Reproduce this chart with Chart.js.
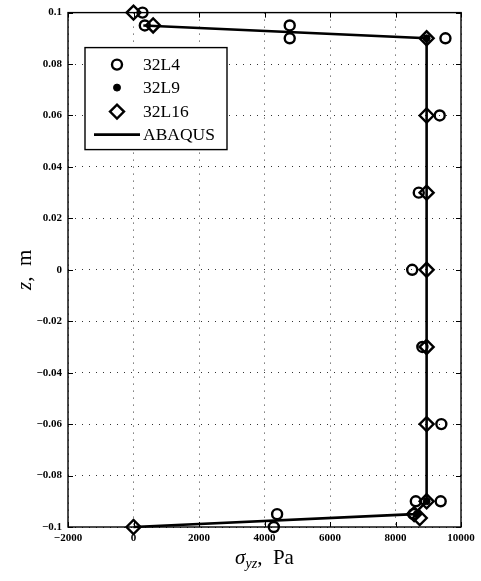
<!DOCTYPE html>
<html>
<head>
<meta charset="utf-8">
<style>
  html, body { margin: 0; padding: 0; background: #fff; }
  #wrap { width: 481px; height: 581px; }
</style>
<script src="https://cdn.jsdelivr.net/npm/chart.js@4/dist/chart.umd.min.js"></script>
</head>
<body>
<div id="wrap"><canvas id="c" width="481" height="581"></canvas></div>
<script>
// Axis ticks and their printed labels
const stressTicks = [-2000, 0, 2000, 4000, 6000, 8000, 10000];
const stressTickLabels = ['\u22122000', '0', '2000', '4000', '6000', '8000', '10000'];
const zTicks = [-0.1, -0.08, -0.06, -0.04, -0.02, 0, 0.02, 0.04, 0.06, 0.08, 0.1];
const zTickLabels = ['\u22120.1', '\u22120.08', '\u22120.06', '\u22120.04', '\u22120.02', '0', '0.02', '0.04', '0.06', '0.08', '0.1'];

// Shear stress sigma_yz (Pa) through the thickness z (m)
const l4Stress = [275, 345, 4770, 4770, 9525, 9350, 8710, 8510, 8820, 9400, 9380, 8620, 8550, 4385, 4285];
const l4Z      = [0.1, 0.095, 0.095, 0.09, 0.09, 0.06, 0.03, 0, -0.03, -0.06, -0.09, -0.09, -0.095, -0.095, -0.1];

const l9Stress = [8950, 8950, 8650];
const l9Z      = [0.09, -0.09, -0.095];

const l16Stress = [0, 600, 8950, 8950, 8950, 8950, 8950, 8950, 8950, 8570, 8740, 0];
const l16Z      = [0.1, 0.095, 0.09, 0.06, 0.03, 0, -0.03, -0.06, -0.09, -0.095, -0.0965, -0.1];

const abaqusStress = [300, 8950, 8950, 8570, 0];
const abaqusZ      = [0.095, 0.09, -0.09, -0.095, -0.1];

const seriesNames = ['32L4', '32L9', '32L16', 'ABAQUS'];

const pts = (xs, ys) => xs.map((v, i) => ({ x: v, y: ys[i] }));
const serif = '"Liberation Serif", "DejaVu Serif", serif';

function labelFor(value, ticks, labels) {
  const i = ticks.findIndex(t => Math.abs(t - value) < 1e-9);
  return i >= 0 ? labels[i] : '';
}

// Box around the axes with inward tick marks on every side
const framePlugin = {
  id: 'frame',
  beforeDatasetsDraw(chart) {
    const { ctx, chartArea: a, scales: { x, y } } = chart;
    ctx.save();
    ctx.strokeStyle = '#000';
    ctx.lineWidth = 1.4;
    ctx.strokeRect(a.left, a.top, a.right - a.left, a.bottom - a.top);
    ctx.lineWidth = 1;
    ctx.beginPath();
    x.ticks.forEach(t => {
      const p = Math.round(x.getPixelForValue(t.value)) + 0.5;
      ctx.moveTo(p, a.bottom); ctx.lineTo(p, a.bottom - 5);
      ctx.moveTo(p, a.top); ctx.lineTo(p, a.top + 5);
    });
    y.ticks.forEach(t => {
      const p = Math.round(y.getPixelForValue(t.value)) + 0.5;
      ctx.moveTo(a.left, p); ctx.lineTo(a.left + 5, p);
      ctx.moveTo(a.right, p); ctx.lineTo(a.right - 5, p);
    });
    ctx.stroke();
    ctx.restore();
  }
};

// Legend box in the upper-left corner of the axes
const legendPlugin = {
  id: 'boxLegend',
  afterDraw(chart) {
    const { ctx, chartArea: a } = chart;
    const bx = a.left + 17, by = a.top + 35, bw = 142, bh = 102;
    ctx.save();
    ctx.fillStyle = '#fff';
    ctx.fillRect(bx, by, bw, bh);
    ctx.strokeStyle = '#000';
    ctx.lineWidth = 1.4;
    ctx.strokeRect(bx, by, bw, bh);
    const rowY = [by + 17, by + 40, by + 64, by + 87];
    const markX = bx + 32;
    const textX = bx + 58;
    ctx.font = '17.5px ' + serif;
    ctx.textBaseline = 'middle';
    ctx.fillStyle = '#000';
    chart.data.datasets.forEach((ds, i) => {
      const yy = rowY[i];
      if (ds.showLine) {
        ctx.beginPath();
        ctx.lineWidth = ds.borderWidth;
        ctx.strokeStyle = ds.borderColor;
        ctx.moveTo(bx + 9, yy); ctx.lineTo(bx + 55, yy);
        ctx.stroke();
      } else {
        ctx.fillStyle = ds.pointBackgroundColor;
        ctx.strokeStyle = ds.pointBorderColor;
        ctx.lineWidth = ds.pointBorderWidth;
        Chart.helpers.drawPoint(ctx, {
          pointStyle: ds.pointStyle, radius: ds.pointRadius,
          borderWidth: ds.pointBorderWidth, rotation: 0
        }, markX, yy);
      }
      ctx.fillStyle = '#000';
      ctx.fillText(ds.label, textX, yy + 1);
    });
    ctx.restore();
  }
};

// Axis titles: sigma_yz, Pa and z, m
const titlePlugin = {
  id: 'axisTitles',
  afterDraw(chart) {
    const { ctx, chartArea: a } = chart;
    ctx.save();
    ctx.fillStyle = '#000';
    ctx.textBaseline = 'alphabetic';
    const parts = [
      { t: '\u03C3', f: 'italic 21px ' + serif, dy: 0 },
      { t: 'yz', f: 'italic 14px ' + serif, dy: 4 },
      { t: ',  Pa', f: '21px ' + serif, dy: 0 }
    ];
    let total = 0;
    parts.forEach(p => { ctx.font = p.f; p.w = ctx.measureText(p.t).width; total += p.w; });
    let cx = (a.left + a.right) / 2 - total / 2;
    const base = 564;
    parts.forEach(p => { ctx.font = p.f; ctx.fillText(p.t, cx, base + p.dy); cx += p.w; });

    ctx.translate(31, (a.top + a.bottom) / 2);
    ctx.rotate(-Math.PI / 2);
    const yparts = [
      { t: 'z', f: 'italic 21px ' + serif },
      { t: ',  m', f: '21px ' + serif }
    ];
    let yt = 0;
    yparts.forEach(p => { ctx.font = p.f; p.w = ctx.measureText(p.t).width; yt += p.w; });
    let px = -yt / 2;
    yparts.forEach(p => { ctx.font = p.f; ctx.fillText(p.t, px, 0); px += p.w; });
    ctx.restore();
  }
};

const tickFont = { family: serif, size: 11, weight: 'bold' };

new Chart(document.getElementById('c'), {
  type: 'scatter',
  data: {
    datasets: [
      {
        label: seriesNames[0], data: pts(l4Stress, l4Z), order: 3, clip: false,
        pointStyle: 'circle', pointRadius: 5, pointBorderWidth: 2.4,
        pointBorderColor: '#000', pointBackgroundColor: 'rgba(0,0,0,0)', showLine: false
      },
      {
        label: seriesNames[1], data: pts(l9Stress, l9Z), order: 2, clip: false,
        pointStyle: 'circle', pointRadius: 3.5, pointBorderWidth: 1,
        pointBorderColor: '#000', pointBackgroundColor: '#000', showLine: false
      },
      {
        label: seriesNames[2], data: pts(l16Stress, l16Z), order: 1, clip: false,
        pointStyle: 'rectRot', pointRadius: 7, pointBorderWidth: 2.4,
        pointBorderColor: '#000', pointBackgroundColor: 'rgba(0,0,0,0)', showLine: false
      },
      {
        label: seriesNames[3], data: pts(abaqusStress, abaqusZ), order: 0, clip: false,
        showLine: true, borderColor: '#000', borderWidth: 2.6,
        pointRadius: 0, fill: false, tension: 0
      }
    ]
  },
  options: {
    responsive: false,
    animation: false,
    devicePixelRatio: 1,
    layout: { padding: { top: 12, right: 20, left: 0, bottom: 0 } },
    plugins: { legend: { display: false }, tooltip: { enabled: false } },
    scales: {
      x: {
        type: 'linear', min: -2000, max: 10000,
        afterBuildTicks: s => { s.ticks = stressTicks.map(v => ({ value: v })); },
        afterFit: s => { s.height = 54; },
        ticks: {
          font: tickFont, color: '#000', padding: 5, maxRotation: 0,
          callback: v => labelFor(v, stressTicks, stressTickLabels)
        },
        grid: { color: '#333', lineWidth: 1, drawTicks: false },
        border: { display: false, dash: [1, 6] }
      },
      y: {
        type: 'linear', min: -0.1, max: 0.1,
        afterBuildTicks: s => { s.ticks = zTicks.map(v => ({ value: v })); },
        afterFit: s => { s.width = 68; },
        ticks: {
          font: tickFont, color: '#000', padding: 6,
          callback: v => labelFor(v, zTicks, zTickLabels)
        },
        grid: { color: '#333', lineWidth: 1, drawTicks: false },
        border: { display: false, dash: [1, 6] }
      }
    }
  },
  plugins: [framePlugin, legendPlugin, titlePlugin]
});
</script>
</body>
</html>
